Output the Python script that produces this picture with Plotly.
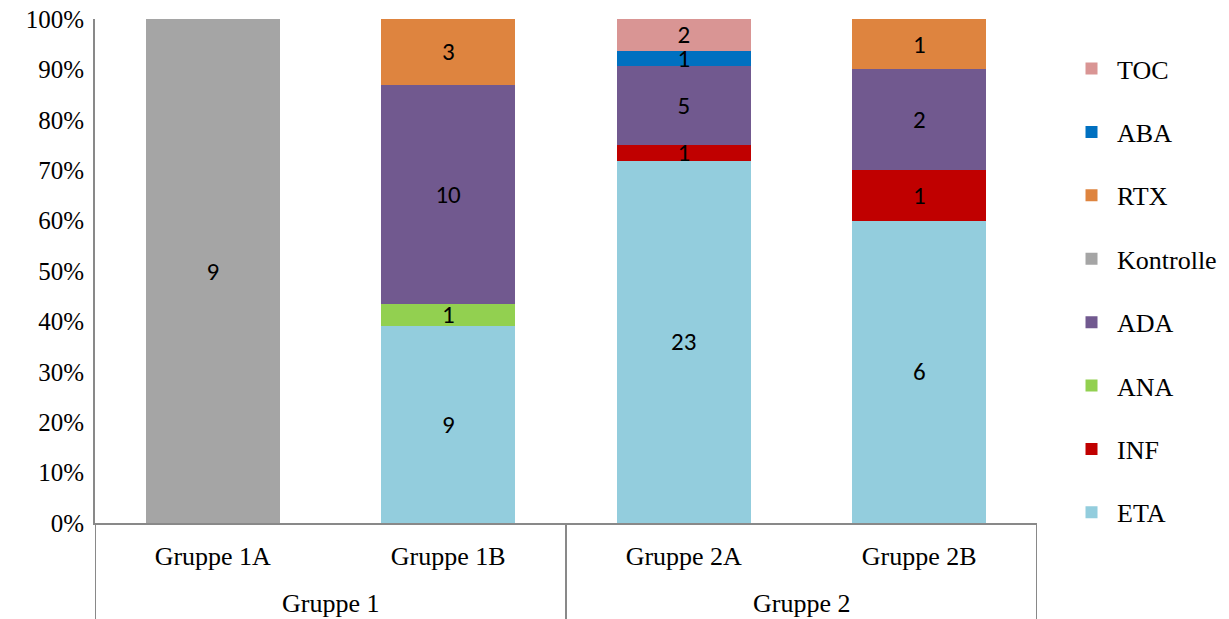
import plotly.graph_objects as go

# Categories: outer group and inner subgroup
groups = ["Gruppe 1", "Gruppe 1", "Gruppe 2", "Gruppe 2"]
subgroups = ["Gruppe 1A", "Gruppe 1B", "Gruppe 2A", "Gruppe 2B"]

# Patient counts per therapy (None = not present in that subgroup)
ETA = [None, 9, 23, 6]
INF = [None, None, 1, 1]
ANA = [None, 1, None, None]
ADA = [None, 10, 5, 2]
Kontrolle = [9, None, None, None]
RTX = [None, 3, None, 1]
ABA = [None, None, 1, None]
TOC = [None, None, 2, None]

series = [
    ("ETA", ETA, "#93CDDD"),
    ("INF", INF, "#C00000"),
    ("ANA", ANA, "#92D050"),
    ("ADA", ADA, "#71598F"),
    ("Kontrolle", Kontrolle, "#A5A5A5"),
    ("RTX", RTX, "#DE843F"),
    ("ABA", ABA, "#0070C0"),
    ("TOC", TOC, "#D99594"),
]

SERIF = "'Liberation Serif', 'Times New Roman', serif"
AXIS_GREY = "#898989"

fig = go.Figure()
for i, (name, vals, color) in enumerate(series):
    fig.add_trace(go.Bar(
        x=subgroups,
        y=vals,
        name=name,
        marker=dict(color=color, line=dict(width=0)),
        text=[("" if v is None else str(v)) for v in vals],
        textposition="inside",
        insidetextanchor="middle",
        textangle=0,
        constraintext="none",
        textfont=dict(family="Carlito, Lato, 'Open Sans', sans-serif", size=25, color="black"),
        legendgroup=name,
        legendrank=len(series) - i,  # top of the stack listed first
        hoverinfo="skip",
    ))

# Outer group labels centred under their subgroups, with dividers at group boundaries
idx = {s: i for i, s in enumerate(subgroups)}
group_names = list(dict.fromkeys(groups))
boundaries = [-0.5]
for g in group_names:
    members = [idx[s] for s, gg in zip(subgroups, groups) if gg == g]
    centre = sum(members) / len(members)
    fig.add_annotation(
        x=centre, xref="x", y=0, yref="paper", yshift=-80,
        yanchor="middle", text=g, showarrow=False,
        font=dict(family=SERIF, size=26, color="black"),
    )
    boundaries.append(max(members) + 0.5)

for b in boundaries:
    fig.add_shape(
        type="line", xref="x", yref="paper",
        x0=b, x1=b, y0=0, y1=-0.2,
        line=dict(color=AXIS_GREY, width=2),
    )

fig.update_layout(
    barmode="stack",
    barnorm="percent",
    bargap=0.43,
    width=1229,
    height=619,
    margin=dict(l=95, r=192, t=19, b=96, autoexpand=False),
    paper_bgcolor="white",
    plot_bgcolor="white",
    uniformtext=dict(minsize=25, mode="show"),
    font=dict(family=SERIF, size=26, color="black"),
    legend=dict(
        traceorder="grouped",
        tracegroupgap=26.6,
        x=1.0308, xanchor="left",
        y=0.461, yanchor="middle",
        font=dict(family=SERIF, size=26, color="black"),
        itemwidth=41,
    ),
    showlegend=True,
)

fig.update_yaxes(
    range=[0, 100],
    dtick=10,
    ticksuffix="%",
    showgrid=False,
    zeroline=False,
    showline=True,
    linecolor=AXIS_GREY,
    linewidth=2,
    ticks="",
    ticklabelstandoff=4,
    tickfont=dict(family=SERIF, size=25),
)
fig.update_xaxes(
    type="category",
    range=[-0.5, len(subgroups) - 0.5],
    showline=True,
    linecolor=AXIS_GREY,
    linewidth=2,
    ticks="",
    ticklabelstandoff=9,
    tickfont=dict(family=SERIF, size=26),
)

fig.write_html("out.html")
